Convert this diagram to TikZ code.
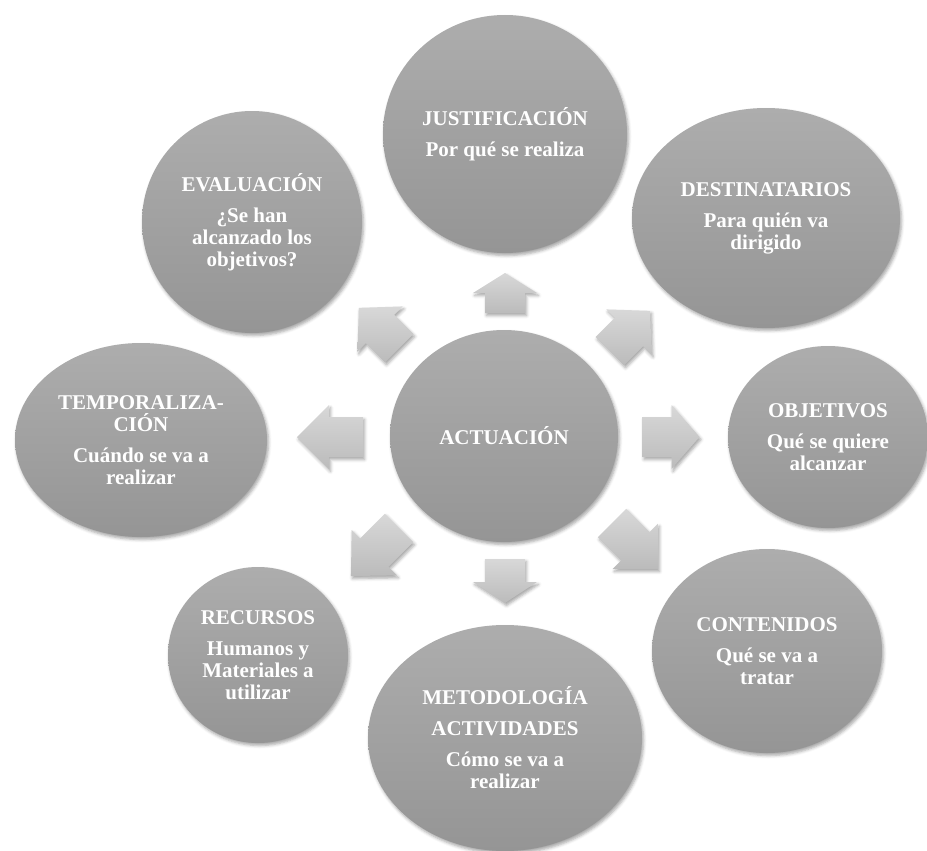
\documentclass[tikz,border=0pt]{standalone}
\usepackage{fontspec}
\setmainfont{Liberation Serif}
\usetikzlibrary{shapes.geometric,shadows.blur}
\definecolor{bubtop}{HTML}{ADADAD}
\definecolor{bubbot}{HTML}{959595}
\definecolor{arrtop}{HTML}{D8D8D8}
\definecolor{arrbot}{HTML}{BBBBBB}
\tikzset{
  softshadow/.style={blur shadow={shadow xshift=1.5pt,shadow yshift=-2.5pt,shadow blur radius=3pt,shadow opacity=35}},
  bubble/.style={ellipse,inner sep=0pt,top color=bubtop,bottom color=bubbot,softshadow,
    text=white,align=center,font=\fontsize{21}{22}\selectfont\bfseries},
  blockarrow/.style={top color=arrtop,bottom color=arrbot,softshadow}
}
\begin{document}
\begin{tikzpicture}[x=1pt,y=-1pt]
\useasboundingbox (0,0) rectangle (927,851);
% arrows round the centre
\foreach \cx/\cy/\ang/\len/\hd in {505/293/90/40/20, 630/331/45/57/30, 671/437/0/57/28, 635/546/-45/65/32,
  505/581/-90/44/21, 375/552/-135/68/33, 330/437/180/66/32, 379/328/135/57/30}
  \path[blockarrow,shift={(\cx,\cy)},rotate=\ang] ({-\len/2},20) -- ({\len/2-\hd},20) -- ({\len/2-\hd},32)
    -- ({\len/2},0) -- ({\len/2-\hd},-32) -- ({\len/2-\hd},-20) -- ({-\len/2},-20) -- cycle;
% bubbles
\node[bubble,minimum width=228pt,minimum height=212pt] (act) at (504,436) {ACTUACIÓN};
\node[bubble,minimum width=244pt,minimum height=238pt] (just) at (505,134) {JUSTIFICACIÓN\\[9pt]Por qué se realiza};
\node[bubble,minimum width=268pt,minimum height=220pt] (dest) at (766,218) {DESTINATARIOS\\[9pt]Para quién va\\dirigido};
\node[bubble,minimum width=200pt,minimum height=182pt] (obj) at (828,437) {OBJETIVOS\\[9pt]Qué se quiere\\alcanzar};
\node[bubble,minimum width=230pt,minimum height=204pt] (cont) at (767,651) {CONTENIDOS\\[9pt]Qué se va a\\tratar};
\node[bubble,minimum width=274pt,minimum height=226pt] (meto) at (505,738) {METODOLOGÍA\\[9pt]ACTIVIDADES\\[9pt]Cómo se va a\\realizar};
\node[bubble,minimum width=180pt,minimum height=176pt] (recu) at (258,655) {RECURSOS\\[9pt]Humanos y\\Materiales a\\utilizar};
\node[bubble,minimum width=252pt,minimum height=194pt] (temp) at (141,440) {TEMPORALIZA-\\CIÓN\\[9pt]Cuándo se va a\\realizar};
\node[bubble,minimum width=220pt,minimum height=222pt] (eval) at (252,222) {EVALUACIÓN\\[9pt]¿Se han\\alcanzado los\\objetivos?};
\end{tikzpicture}
\end{document}
